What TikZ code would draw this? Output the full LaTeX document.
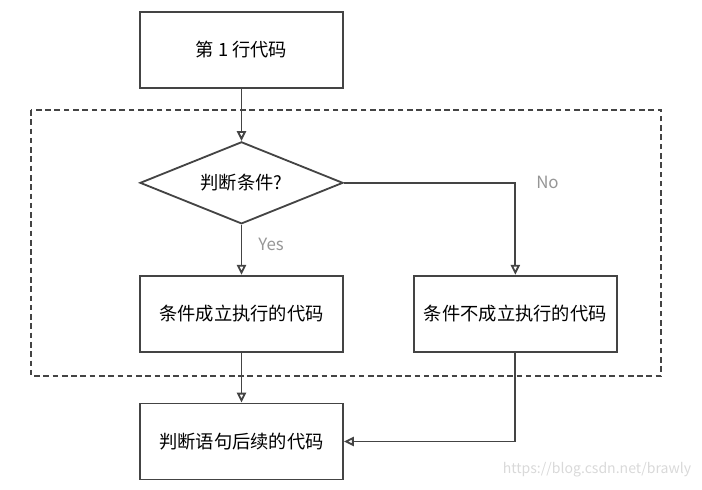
\documentclass[tikz,border=0pt]{standalone}
\usepackage{fontspec}
\setmainfont{Noto Sans CJK SC}
\usepackage{xcolor}
\definecolor{linegray}{RGB}{68,68,68}
\definecolor{labelgray}{RGB}{150,150,150}
\usetikzlibrary{arrows.meta, positioning, shapes.geometric}

\begin{document}
\begin{tikzpicture}[
    box/.style={rectangle, draw=linegray, line width=1.3pt,
      minimum width=5.075cm, minimum height=1.9cm, align=center,
      font=\fontsize{13}{15}\selectfont},
    cond/.style={diamond, draw=linegray, line width=1.3pt, aspect=2.5,
      inner sep=0pt, minimum width=5.075cm, minimum height=2.05cm,
      font=\fontsize{13}{15}\selectfont},
    arrow/.style={draw=linegray, line width=1.3pt,
      -{Triangle[open, length=7pt, width=6.5pt]}},
    lbl/.style={text=labelgray, font=\fontsize{12}{14}\selectfont}
]
\useasboundingbox (0,0) rectangle (17.55,-12.225);

%% zone du test
\draw[linegray, line width=1.3pt, dash pattern=on 4pt off 2.6pt]
  (0.775,-2.75) rectangle (16.525,-9.4);

%% colonne gauche
\node[box] (line1) at (6.0375,-1.25) {第 1 行代码};
\node[cond, below=1.3cm of line1] (test) {判断条件?};
\node[box, below=1.25cm of test] (yes) {条件成立执行的代码};
\node[box, below=1.25cm of yes] (after) {判断语句后续的代码};

%% colonne droite
\node[box, right=1.725cm of yes] (no) {条件不成立执行的代码};

\draw[arrow] (line1) -- (test);
\draw[arrow] (test) -- node[lbl, right, xshift=8pt, yshift=4pt] (ylbl) {Yes} (yes);
\draw[arrow] (test.east) -| coordinate (corner) (no.north);
\node[lbl, right=0.4cm of corner] (nlbl) {No};
\draw[arrow] (yes) -- (after);
\draw[arrow] (no.south) |- (after.east);

\node[text=gray!30, font=\fontsize{10}{12}\selectfont] (mark) at (14.925,-11.75)
  {https://blog.csdn.net/brawly};
\end{tikzpicture}
\end{document}
